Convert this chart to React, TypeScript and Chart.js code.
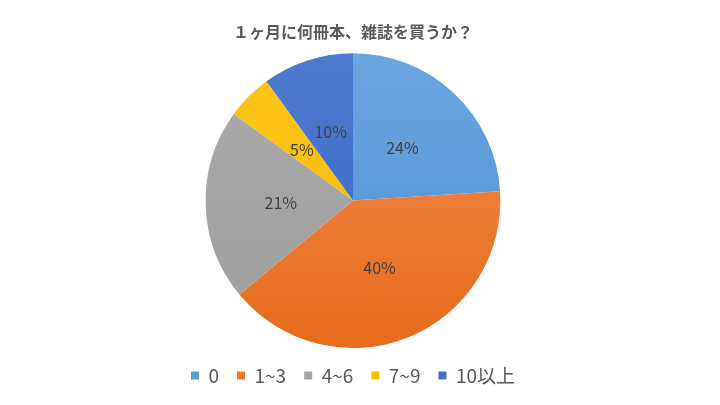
import React, { useEffect, useRef } from "react";
import { Chart, registerables } from "chart.js";

Chart.register(...registerables);

const titleText = "１ヶ月に何冊本、雑誌を買うか？";
const categories = ["0", "1~3", "4~6", "7~9", "10以上"];
const shares = [24, 40, 21, 5, 10];
const topColors = ["#6AA6E0", "#F28E52", "#ABABAB", "#FFC61A", "#4E7BD0"];
const bottomColors = ["#4C8FD3", "#E66B1B", "#9E9E9E", "#F2B700", "#3A67C2"];
const legendColors = ["#5B9BD5", "#ED7D31", "#A5A5A5", "#FFC000", "#4472C4"];

const labelPlugin = {
  id: "sliceLabels",
  afterDatasetsDraw(chart: any) {
    const ctx = chart.ctx;
    const meta = chart.getDatasetMeta(0);
    const total = shares.reduce((a, b) => a + b, 0);
    ctx.save();
    ctx.fillStyle = "#404040";
    ctx.font = '16px "Noto Sans CJK JP", "Noto Sans", sans-serif';
    ctx.textAlign = "center";
    ctx.textBaseline = "middle";
    meta.data.forEach((arc: any, i: number) => {
      const { x, y, startAngle, endAngle, outerRadius } = arc.getProps(
        ["x", "y", "startAngle", "endAngle", "outerRadius"],
        true
      );
      const mid = (startAngle + endAngle) / 2;
      const r = outerRadius * 0.49;
      const pct = Math.round((shares[i] / total) * 100);
      ctx.fillText(pct + "%", x + Math.cos(mid) * r, y + Math.sin(mid) * r);
    });
    ctx.restore();
  },
};

export default function App() {
  const ref = useRef<HTMLCanvasElement>(null);
  useEffect(() => {
    if (!ref.current) return;
    const chart = new Chart(ref.current, {
      type: "pie",
      data: {
        labels: categories,
        datasets: [
          {
            data: shares,
            borderWidth: 0,
            backgroundColor: (c: any) => {
              const area = c.chart.chartArea;
              const i = c.dataIndex;
              if (!area) return legendColors[i];
              const g = c.chart.ctx.createLinearGradient(0, area.top, 0, area.bottom);
              g.addColorStop(0, topColors[i]);
              g.addColorStop(1, bottomColors[i]);
              return g;
            },
          },
        ],
      },
      options: {
        responsive: false,
        animation: false,
        layout: { padding: { top: 0, bottom: 10, left: 0, right: 14 } },
        plugins: {
          tooltip: { enabled: false },
          title: {
            display: true,
            text: titleText,
            color: "#595959",
            font: { family: '"Noto Sans CJK JP", sans-serif', size: 16, weight: "bold", lineHeight: 1.2 },
            padding: { top: 22, bottom: 12 },
          },
          legend: {
            position: "bottom",
            labels: {
              color: "#595959",
              font: { family: '"Noto Sans CJK JP", sans-serif', size: 19 },
              boxWidth: 8,
              boxHeight: 8,
              padding: 18,
              generateLabels: () =>
                categories.map((c, i) => ({
                  text: c,
                  fillStyle: legendColors[i],
                  strokeStyle: legendColors[i],
                  lineWidth: 0,
                  hidden: false,
                  index: i,
                  fontColor: "#595959",
                })),
            },
          },
        },
      },
      plugins: [labelPlugin],
    });
    return () => chart.destroy();
  }, []);
  return (
    <div style={{ position: "fixed", left: 0, top: 0, width: 720, height: 405, background: "#fff" }}>
      <canvas ref={ref} width={720} height={405} />
    </div>
  );
}
